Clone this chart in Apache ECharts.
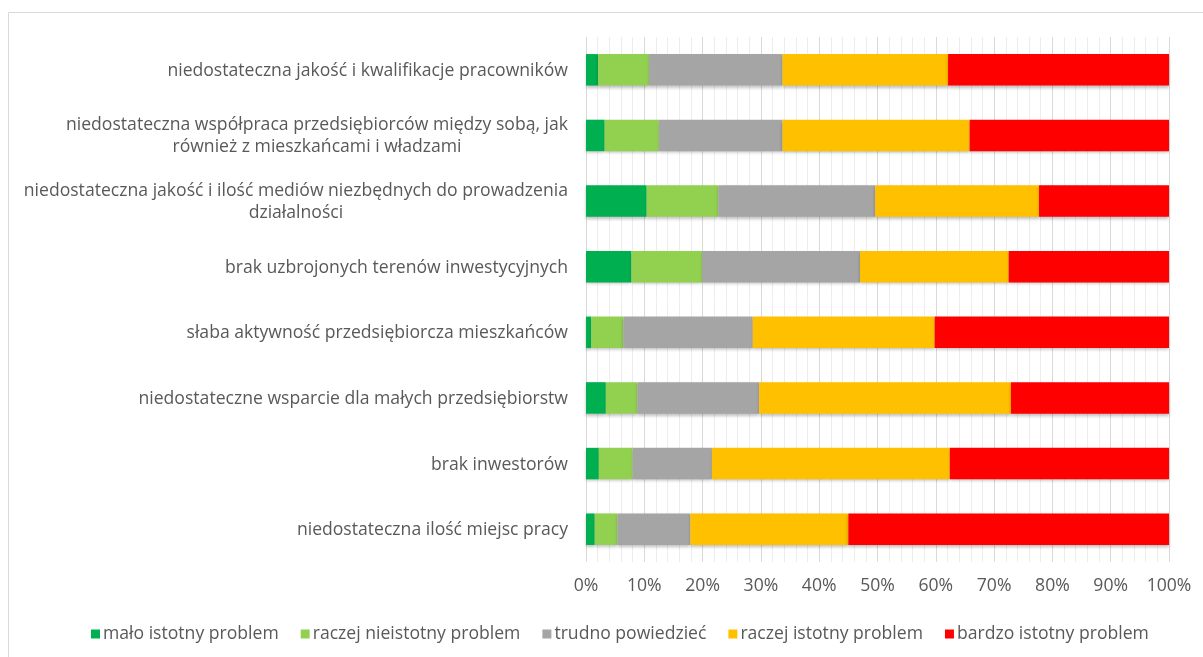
<!DOCTYPE html>
<html>
<head>
<meta charset="utf-8">
<script src="https://cdn.jsdelivr.net/npm/echarts@6/dist/echarts.min.js"></script>
<style>
  html, body { margin: 0; padding: 0; background: #fff; }
  #chart { width: 1203px; height: 657px; }
</style>
</head>
<body>
<div id="chart"></div>
<script>
// Categories, top to bottom as in the reference
const categories = [
  'niedostateczna jakość i kwalifikacje pracowników',
  'niedostateczna współpraca przedsiębiorców między sobą, jak\nrównież z mieszkańcami i władzami',
  'niedostateczna jakość i ilość mediów niezbędnych do prowadzenia\ndziałalności',
  'brak uzbrojonych terenów inwestycyjnych',
  'słaba aktywność przedsiębiorcza mieszkańców',
  'niedostateczne wsparcie dla małych przedsiębiorstw',
  'brak inwestorów',
  'niedostateczna ilość miejsc pracy'
];
const seriesNames = ['mało istotny problem', 'raczej nieistotny problem', 'trudno powiedzieć', 'raczej istotny problem', 'bardzo istotny problem'];
// Percent values (same order as categories)
const maloIstotny      = [2.1, 3.2, 10.4, 7.8, 0.9, 3.4, 2.2, 1.5];
const raczejNieistotny = [8.7, 9.3, 12.3, 12.1, 5.5, 5.4, 5.8, 3.9];
const trudnoPowiedziec = [22.9, 21.2, 26.9, 27.1, 22.2, 20.9, 13.6, 12.5];
const raczejIstotny    = [28.4, 32.1, 28.1, 25.5, 31.2, 43.2, 40.8, 27.1];
const bardzoIstotny    = [37.9, 34.2, 22.3, 27.5, 40.2, 27.1, 37.6, 55.0];
const xTicks = [0, 10, 20, 30, 40, 50, 60, 70, 80, 90, 100];

const colors = ['#00B050', '#92D050', '#A5A5A5', '#FFC000', '#FF0000'];
const values = [maloIstotny, raczejNieistotny, trudnoPowiedziec, raczejIstotny, bardzoIstotny];
const FONT = 'Open Sans';
const FS = 17.6;
const txtColor = '#595959';

const chart = echarts.init(document.getElementById('chart'));
chart.setOption({
  animation: false,
  color: colors,
  graphic: [{
    type: 'rect', shape: { x: 8.5, y: 12.5, width: 1300, height: 700 },
    style: { fill: 'none', stroke: '#D9D9D9', lineWidth: 1 }, silent: true, z: -1
  }],
  grid: { left: 586, right: 34, top: 37, bottom: 95, containLabel: false },
  legend: {
    bottom: 9, left: 86,
    itemWidth: 9, itemHeight: 9, itemGap: 22,
    icon: 'rect',
    textStyle: { fontFamily: FONT, fontSize: FS, color: txtColor, padding: [0, 0, 0, -2] },
    data: seriesNames
  },
  xAxis: {
    type: 'value', min: 0, max: 100, interval: 10,
    axisLine: { show: false }, axisTick: { show: false },
    axisLabel: { formatter: v => v + '%', fontFamily: FONT, fontSize: FS, color: txtColor, margin: 15 },
    splitLine: { show: true, lineStyle: { color: '#D9D9D9', width: 1 } },
    minorTick: { show: false, splitNumber: 5 },
    minorSplitLine: { show: true, lineStyle: { color: '#EDEDED', width: 1 } }
  },
  yAxis: {
    type: 'category', inverse: true, data: categories,
    axisLine: { show: false }, axisTick: { show: false },
    axisLabel: {
      margin: 18, lineHeight: 22,
      formatter: v => v.split('\n').map(l => '{c|' + l + '}').join('\n'),
      rich: { c: { align: 'center', fontFamily: FONT, fontSize: FS, color: txtColor, lineHeight: 22, padding: [2, 0, 0, 0] } }
    }
  },
  series: seriesNames.map((name, i) => ({
    name, type: 'bar', stack: 'total', data: values[i],
    barCategoryGap: '52%',
    itemStyle: {
      color: colors[i],
      shadowColor: 'rgba(0,0,0,0.25)', shadowBlur: 3, shadowOffsetY: 2
    }
  }))
});
</script>
</body>
</html>
